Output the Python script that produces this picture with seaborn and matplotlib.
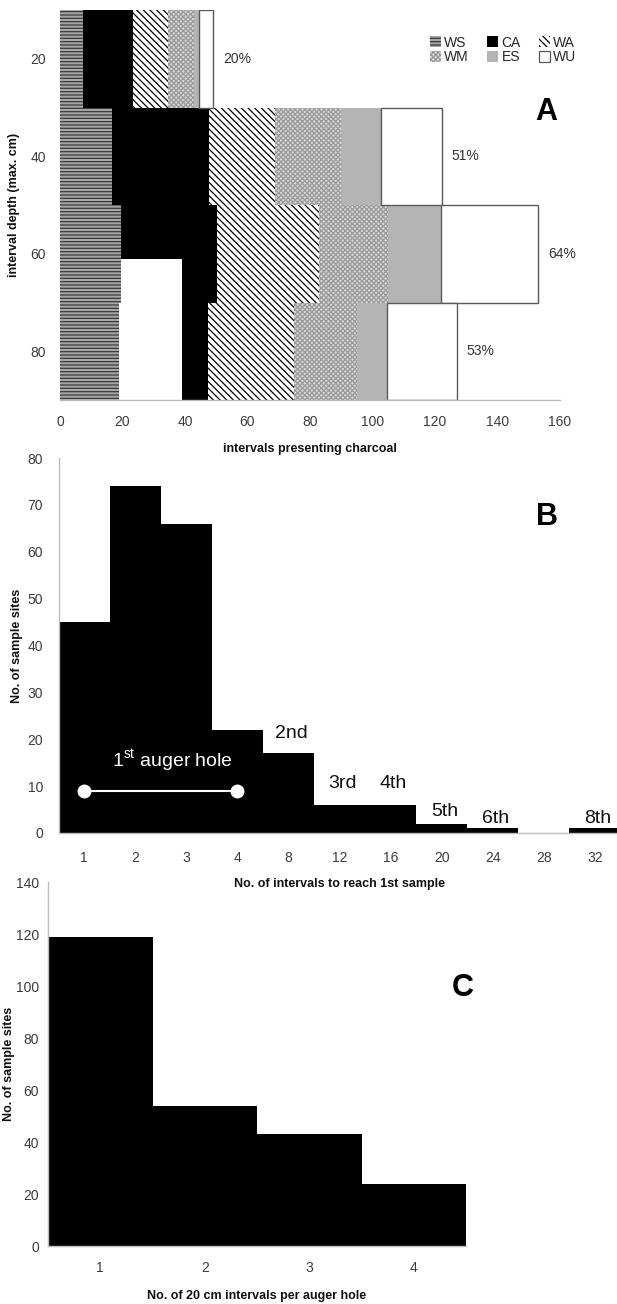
import matplotlib
matplotlib.use("Agg")
import numpy as np
import pandas as pd
import matplotlib.pyplot as plt
import seaborn as sns
from matplotlib.patches import Patch

# ---------------- data ----------------
# Panel A: stacked segments per depth interval (intervals presenting charcoal)
depths = ["20", "40", "60", "80"]
ws = [7.4, 16.6, 19.6, 18.8]
gap = [0.0, 0.0, 0.0, 20.2]
ca = [16.0, 31.1, 30.6, 8.5]
wa = [11.2, 21.1, 32.8, 27.5]
wm = [8.4, 21.1, 22.0, 20.0]
es = [1.5, 12.8, 17.0, 9.7]
wu = [4.5, 19.5, 31.0, 22.3]
pct_labels = ["20%", "51%", "64%", "53%"]
a_xticks = [0, 20, 40, 60, 80, 100, 120, 140, 160]

# Panel B
b_cats = ["1", "2", "3", "4", "8", "12", "16", "20", "24", "28", "32"]
b_vals = [45, 74, 66, 22, 17, 6, 6, 2, 1, 0, 1]
b_ordinals = {"8": "2nd", "12": "3rd", "16": "4th", "20": "5th", "24": "6th", "32": "8th"}
auger_from, auger_to, auger_level = "1", "4", 9
auger_text = "1$^{\\mathrm{st}}$ auger hole"

# Panel C
c_cats = ["1", "2", "3", "4"]
c_vals = [119, 54, 43, 24]

# ---------------- style ----------------
sns.set_theme(style="white")
plt.rcParams["font.family"] = ["Liberation Sans", "DejaVu Sans"]
plt.rcParams["mathtext.fontset"] = "custom"
plt.rcParams["mathtext.rm"] = "Liberation Sans"
plt.rcParams["hatch.linewidth"] = 0.9

W, H = 617, 1304
fig = plt.figure(figsize=(W / 100, H / 100), dpi=100)

def axes_px(left, right, top, bottom):
    ax = fig.add_axes([left / W, 1 - bottom / H, (right - left) / W, (bottom - top) / H])
    ax.patch.set_alpha(0)
    return ax

SPINE = "#bdbdbd"
TICKC = "#3c3c3c"

def style_axes(ax):
    sns.despine(ax=ax)
    for s in ("left", "bottom"):
        ax.spines[s].set_color(SPINE)
        ax.spines[s].set_linewidth(1.0)
    ax.tick_params(axis="both", colors=SPINE, labelcolor=TICKC, labelsize=10,
                   length=3, width=0.8, direction="out")

# ---------------- Panel A ----------------
axA = axes_px(60, 560, 10, 400)
series = [
    ("WS", ws, dict(color="#a6a6a6", edgecolor="#3a3a3a", hatch="-----", linewidth=0)),
    ("gap", gap, dict(color="white", edgecolor="white", linewidth=0)),
    ("CA", ca, dict(color="black", edgecolor="black", linewidth=0)),
    ("WA", wa, dict(color="white", edgecolor="black", hatch="\\\\\\\\\\", linewidth=0)),
    ("WM", wm, dict(color="#d6d6d6", edgecolor="#9a9a9a", hatch="xxxxxxx", linewidth=0)),
    ("ES", es, dict(color="#b4b4b4", edgecolor="#b4b4b4", linewidth=0)),
    ("WU", wu, dict(color="white", edgecolor="#5a5a5a", linewidth=1.0)),
]
ypos = np.arange(len(depths))
left = np.zeros(len(depths))
gap_overhang = 0.45
for name, v, st in series:
    v = np.asarray(v, dtype=float)
    if name == "gap":
        rows = v > 0
        axA.barh(ypos[rows] - gap_overhang / 2, v[rows], left=left[rows],
                 height=1 + gap_overhang, zorder=2.3, **st)
    else:
        z = 2.5 if name == "WS" else 2
        axA.barh(ypos, v, left=left, height=1, zorder=z, **st)
    left = left + v
totals = left
for i, (t, lab) in enumerate(zip(totals, pct_labels)):
    axA.annotate(lab, xy=(t, i), xytext=(10, 0), textcoords="offset pixels",
                 ha="left", va="center", fontsize=10, color="#333333",
                 annotation_clip=False)
axA.set_yticks(ypos)
axA.set_yticklabels(depths)
axA.set_xlim(0, 160)
axA.set_ylim(3.5, -0.5)
axA.set_xticks(a_xticks)
style_axes(axA)
axA.spines["left"].set_visible(False)
axA.tick_params(axis="y", length=0, pad=10)
axA.tick_params(axis="x", pad=8)
axA.set_xlabel("intervals presenting charcoal", fontsize=9, fontweight="bold", color="#111111")
axA.set_ylabel("interval depth (max. cm)", fontsize=9, fontweight="bold", color="#111111")
axA.xaxis.label.set_va("center")
axA.yaxis.label.set_va("center")
axA.xaxis.set_label_coords(0.5, (400 - 449) / 390)
axA.yaxis.set_label_coords((14 - 60) / 500, 0.5)

handles = []
lookup = {s[0]: s[2] for s in series}
for name in ["WS", "WM", "CA", "ES", "WA", "WU"]:
    st = lookup[name]
    handles.append(Patch(facecolor=st["color"], edgecolor=st["edgecolor"], hatch=st.get("hatch"),
                         linewidth=0.9 if name == "WU" else 0, label=name))
fig.legend(handles=handles, ncol=3, loc="upper left", bbox_to_anchor=(424 / W, 1 - 30 / H),
           frameon=False, fontsize=10, handlelength=0.8, handleheight=0.8,
           handletextpad=0.25, columnspacing=1.3, labelspacing=0.05, borderaxespad=0)

# ---------------- Panel B ----------------
axB = axes_px(58.5, 620.5, 458, 833)
sns.barplot(x=b_cats, y=b_vals, order=b_cats, color="black", width=1, saturation=1,
            linewidth=0, ax=axB)
axB.set_xlim(-0.5, len(b_cats) - 0.5)
axB.set_ylim(0, 80)
axB.set_yticks(range(0, 81, 10))
style_axes(axB)
axB.tick_params(axis="y", pad=8)
axB.tick_params(axis="x", length=0, pad=13)
axB.set_xticks(np.arange(0.5, len(b_cats) - 1, 1), minor=True)
axB.tick_params(axis="x", which="minor", length=3, color=SPINE, width=0.8)
ord_offsets = {"8": 15, "12": 17, "16": 17, "20": 8, "24": 5, "32": 5}
for cat, lab in b_ordinals.items():
    i = b_cats.index(cat)
    axB.annotate(lab, xy=(i, b_vals[i]), xytext=(3, ord_offsets[cat]), textcoords="offset pixels",
                 ha="center", va="baseline", fontsize=14, color="#111111")
i0, i1 = b_cats.index(auger_from), b_cats.index(auger_to)
axB.plot([i0, i1], [auger_level, auger_level], color="white", lw=1.5, marker="o",
         ms=9, mfc="white", mec="white", solid_capstyle="butt")
axB.annotate(auger_text, xy=((i0 + i1) / 2, auger_level), xytext=(12, 30),
             textcoords="offset pixels", ha="center", va="center", fontsize=14,
             color="white")
axB.set_xlabel("No. of intervals to reach 1st sample", fontsize=9, fontweight="bold", color="#111111")
axB.set_ylabel("No. of sample sites", fontsize=9, fontweight="bold", color="#111111")
axB.xaxis.label.set_va("center")
axB.yaxis.label.set_va("center")
axB.xaxis.set_label_coords(0.5, (833 - 884) / 375)
axB.yaxis.set_label_coords((17 - 58.5) / 562, 0.5)

# ---------------- Panel C ----------------
axC = axes_px(48, 466, 882, 1246)
sns.barplot(x=c_cats, y=c_vals, order=c_cats, color="black", width=1, saturation=1,
            linewidth=0, ax=axC)
axC.set_xlim(-0.5, len(c_cats) - 0.5)
axC.set_ylim(0, 140)
axC.set_yticks(range(0, 141, 20))
style_axes(axC)
axC.tick_params(axis="x", length=0, pad=11)
axC.set_xticks(np.arange(0.5, len(c_cats) - 1, 1), minor=True)
axC.tick_params(axis="x", which="minor", length=3, color=SPINE, width=0.8)
axC.set_xlabel("No. of 20 cm intervals per auger hole", fontsize=9, fontweight="bold", color="#111111")
axC.set_ylabel("No. of sample sites", fontsize=9, fontweight="bold", color="#111111")
axC.xaxis.label.set_va("center")
axC.yaxis.label.set_va("center")
axC.xaxis.set_label_coords(0.5, (1246 - 1296) / 364)
axC.yaxis.set_label_coords((9 - 48) / 418, 0.5)

# panel letters
for lab, (px, py) in {"A": (546, 112), "B": (547, 517), "C": (463, 988)}.items():
    fig.text(px / W, 1 - py / H, lab, ha="center", va="center", fontsize=22,
             fontweight="bold", color="black")

fig.savefig("out.png", dpi=100)
